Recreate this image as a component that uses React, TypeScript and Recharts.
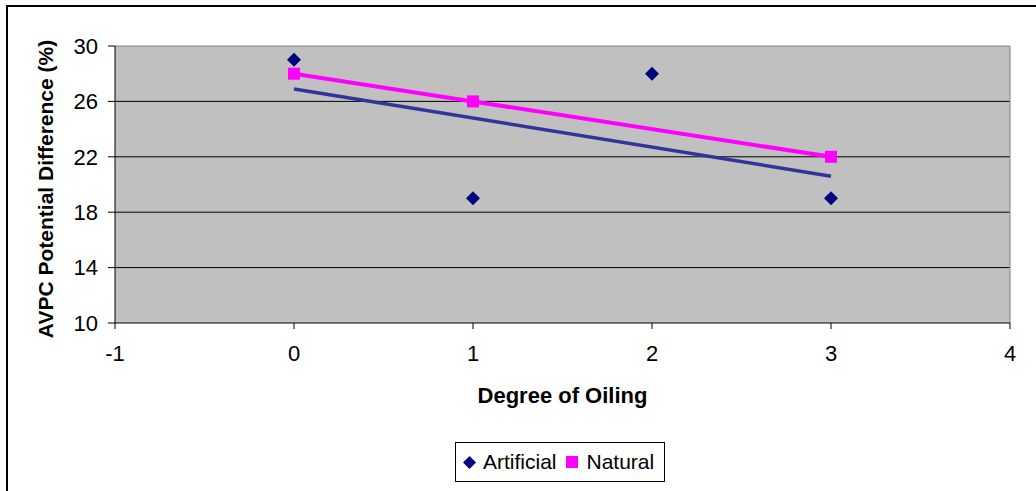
import {
  ComposedChart,
  Line,
  Scatter,
  XAxis,
  YAxis,
  CartesianGrid,
  ReferenceLine,
} from "recharts";

const artificialX = [0, 1, 2, 3];
const artificialY = [29, 19, 28, 19];
const naturalX = [0, 1, 3];
const naturalY = [28, 26, 22];
// linear trendline for Artificial, end points
const trendX = [0, 3];
const trendY = [26.9, 20.6];

const xTicks = [-1, 0, 1, 2, 3, 4];
const yTicks = [10, 14, 18, 22, 26, 30];

const artificialData = artificialX.map((x, i) => ({ x, y: artificialY[i] }));
const naturalData = naturalX.map((x, i) => ({ x, y: naturalY[i] }));
const trendData = trendX.map((x, i) => ({ x, y: trendY[i] }));

const FONT = '"Liberation Sans", Arial, sans-serif';

const Diamond = (props: any) => {
  const { cx, cy } = props;
  const r = 7;
  return (
    <polygon
      points={`${cx},${cy - r} ${cx + r},${cy} ${cx},${cy + r} ${cx - r},${cy}`}
      fill="#000080"
    />
  );
};

const Square = (props: any) => {
  const { cx, cy } = props;
  return <rect x={cx - 6} y={cy - 6} width={12} height={12} fill="#FF00FF" />;
};

const LegendBox = () => (
  <div
    style={{
      position: "absolute",
      left: 455,
      top: 442,
      width: 210,
      height: 40,
      border: "1px solid #000",
      background: "#fff",
      display: "flex",
      alignItems: "center",
      paddingLeft: 7,
      fontFamily: FONT,
      fontSize: 21,
      boxSizing: "border-box",
    }}
  >
    <svg width={13} height={13} style={{ marginRight: 7 }}>
      <polygon points="6.5,0 13,6.5 6.5,13 0,6.5" fill="#000080" />
    </svg>
    <span style={{ marginRight: 9 }}>Artificial</span>
    <svg width={12} height={12} style={{ marginRight: 9 }}>
      <rect x={0} y={0} width={12} height={12} fill="#FF00FF" />
    </svg>
    <span>Natural</span>
  </div>
);

export default function App() {
  return (
    <div style={{ position: "absolute", left: 0, top: 0, width: 1036, height: 491, background: "#fff", overflow: "hidden" }}>
      <div
        style={{
          position: "absolute",
          left: 6,
          top: 5,
          width: 1040,
          height: 500,
          borderLeft: "2px solid #000",
          borderTop: "2px solid #000",
        }}
      />
      <ComposedChart
        width={1036}
        height={491}
        margin={{ top: 46, right: 26, bottom: 78, left: 0 }}
        style={{ position: "absolute", left: 0, top: 0 }}
      >
        <CartesianGrid
          vertical={false}
          horizontalValues={[14, 18, 22, 26]}
          stroke="#000"
          fill="#C0C0C0"
          fillOpacity={1}
        />
        <XAxis
          type="number"
          dataKey="x"
          domain={[-1, 4]}
          ticks={xTicks}
          allowDataOverflow
          stroke="#000"
          tickSize={6}
          tickMargin={16}
          height={90}
          tick={{ fill: "#000", fontSize: 22, fontFamily: FONT }}
          label={(props: any) => {
            const vb = props.viewBox;
            return (
              <text
                x={vb.x + vb.width / 2}
                y={403}
                textAnchor="middle"
                fill="#000"
                fontSize={22}
                fontWeight="bold"
                fontFamily={FONT}
              >
                Degree of Oiling
              </text>
            );
          }}
        />
        <YAxis
          type="number"
          dataKey="y"
          domain={[10, 30]}
          ticks={yTicks}
          allowDataOverflow
          stroke="#000"
          tickSize={7}
          tickMargin={10}
          width={115}
          tick={{ fill: "#000", fontSize: 22, fontFamily: FONT }}
          label={() => {
            const cx = 53;
            const cy = 189;
            return (
              <text
                x={cx}
                y={cy}
                transform={`rotate(-90 ${cx} ${cy})`}
                textAnchor="middle"
                fill="#000"
                fontSize={21}
                fontWeight="bold"
                fontFamily={FONT}
              >
                AVPC Potential Difference (%)
              </text>
            );
          }}
        />
        <ReferenceLine y={30} stroke="#808080" />
        <ReferenceLine x={4} stroke="#808080" />
        <Line
          data={trendData}
          dataKey="y"
          stroke="#333399"
          strokeWidth={3.5}
          dot={false}
          activeDot={false}
          legendType="none"
          isAnimationActive={false}
        />
        <Line
          data={naturalData}
          dataKey="y"
          name="Natural"
          stroke="#FF00FF"
          strokeWidth={4}
          dot={<Square />}
          activeDot={false}
          isAnimationActive={false}
        />
        <Scatter
          data={artificialData}
          dataKey="y"
          name="Artificial"
          shape={<Diamond />}
          isAnimationActive={false}
        />
      </ComposedChart>
      <LegendBox />
    </div>
  );
}
